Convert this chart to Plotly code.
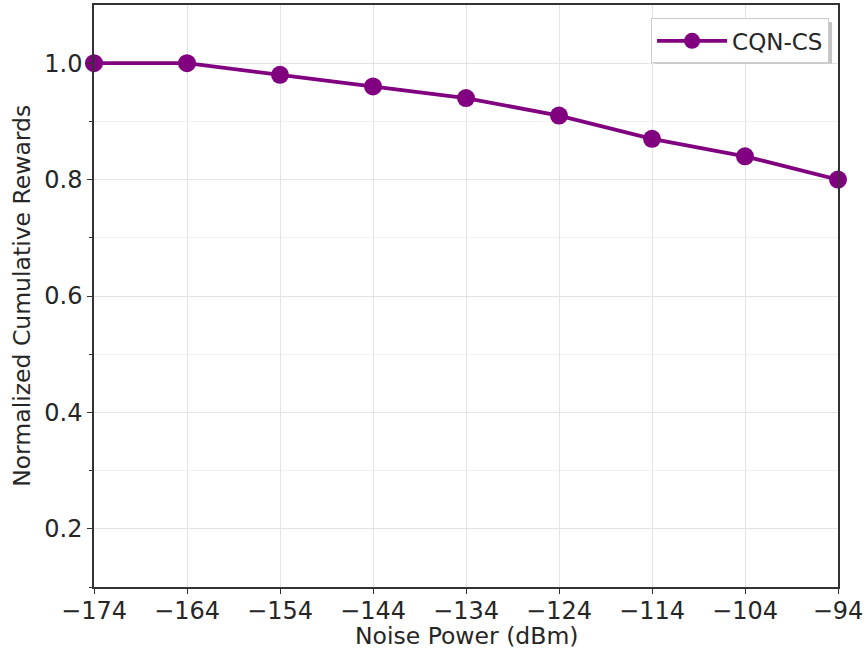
import plotly.graph_objects as go

noise_power = [-174, -164, -154, -144, -134, -124, -114, -104, -94]
rewards = [1.00, 1.00, 0.98, 0.96, 0.94, 0.91, 0.87, 0.84, 0.80]
x_ticks = [-174, -164, -154, -144, -134, -124, -114, -104, -94]
y_ticks = [0.2, 0.4, 0.6, 0.8, 1.0]

purple = "#800080"
font_family = "DejaVu Sans"
text_color = "#262626"

fig = go.Figure()
fig.add_trace(go.Scatter(
    x=noise_power, y=rewards, mode="lines+markers", name="CQN-CS",
    line=dict(color=purple, width=3.8),
    marker=dict(color=purple, size=18),
    cliponaxis=False,
))

axis_common = dict(
    showline=True, linecolor="#333333", linewidth=1.5, mirror=True,
    ticks="outside", ticklen=5, tickcolor="#333333",
    tickfont=dict(family=font_family, size=24, color=text_color),
    gridcolor="#e3e3e3", gridwidth=1, zeroline=False, automargin=False,
)

fig.update_xaxes(
    range=[-174, -94], tickvals=x_ticks,
    ticktext=[f"\u2212{abs(v)}" for v in x_ticks],
    ticklabelstandoff=-4,
    **axis_common,
)
fig.update_yaxes(
    range=[0.1, 1.1], tickvals=y_ticks, ticktext=[f"{v:.1f}" for v in y_ticks],
    minor=dict(tickvals=[0.1, 0.3, 0.5, 0.7, 0.9], ticks="outside", ticklen=3,
               tickcolor="#333333", showgrid=True, gridcolor="#f1f1f1", gridwidth=1),
    **axis_common,
)

# axis titles as annotations so their positions can be set directly
fig.add_annotation(
    text="Noise Power (dBm)",
    xref="paper", yref="paper", x=0.5, y=-0.085, xanchor="center", yanchor="middle",
    showarrow=False, font=dict(family=font_family, size=23.5, color=text_color),
)
fig.add_annotation(
    text="Normalized Cumulative Rewards", textangle=-90,
    xref="paper", yref="paper", x=-0.097, y=0.5, xanchor="center", yanchor="middle",
    showarrow=False, font=dict(family=font_family, size=23.5, color=text_color),
)

# soft drop shadow behind the legend box
fig.add_shape(
    type="rect", xref="paper", yref="paper",
    x0=0.754, x1=0.992, y0=0.899, y1=0.971,
    fillcolor="#c4c4c4", line=dict(width=0), layer="above",
)

fig.update_layout(
    width=866, height=649,
    margin=dict(l=94, r=28, t=5, b=62),
    plot_bgcolor="white", paper_bgcolor="white",
    font=dict(family=font_family),
    legend=dict(
        x=0.988, y=0.977, xanchor="right", yanchor="top",
        bgcolor="white", bordercolor="#cccccc", borderwidth=1,
        font=dict(family=font_family, size=23, color=text_color),
        itemwidth=70,
    ),
    showlegend=True,
)

fig.write_html("out.html")
